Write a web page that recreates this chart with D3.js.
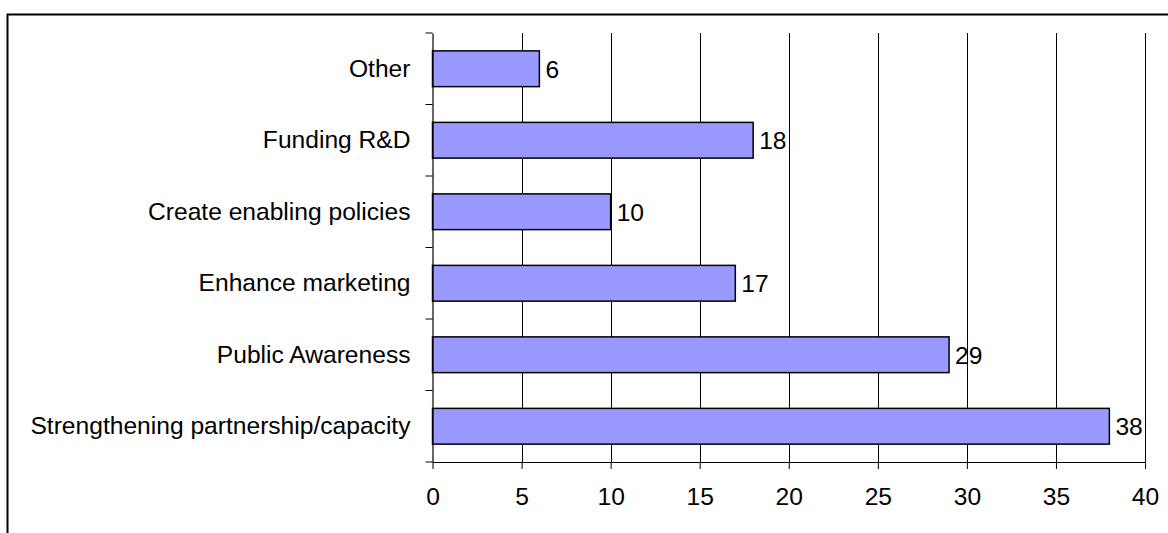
<!DOCTYPE html>
<html><head><meta charset="utf-8">
<script src="https://cdn.jsdelivr.net/npm/d3@7"></script>
<style>body{margin:0;background:#fff}svg{display:block}text{font-family:"Liberation Sans",Arial,sans-serif;fill:#000}</style>
</head><body><svg id="c" width="1168" height="533"></svg>
<script>
const categories = ["Strengthening partnership/capacity","Public Awareness","Enhance marketing","Create enabling policies","Funding R&D","Other"];
const values = [38, 29, 17, 10, 18, 6];
const xTicks = [0,5,10,15,20,25,30,35,40];

const FS = 24.6;
const svg = d3.select("#c");
const L = 432.5, R = 1145, T = 33, B = 462;
// outer chart frame
svg.append("rect").attr("x",7.5).attr("y",14.5).attr("width",1200).attr("height",600)
  .attr("fill","none").attr("stroke","#000").attr("stroke-width",2);

const x = d3.scaleLinear().domain([0,40]).range([L,R]);
const y = d3.scaleBand().domain(categories.slice().reverse()).range([T,B]).paddingInner(0.5).paddingOuter(0.25);
const yb = d3.scaleBand().domain(categories.slice().reverse()).range([T,B]);

// gridlines
svg.append("g").selectAll("line").data(xTicks.slice(1)).join("line")
  .attr("x1",d=>Math.round(x(d))+0.5).attr("x2",d=>Math.round(x(d))+0.5).attr("y1",T).attr("y2",B)
  .attr("stroke","#000").attr("stroke-width",1);

// bars
svg.append("g").selectAll("rect").data(categories).join("rect")
  .attr("x",x(0)).attr("y",d=>y(d)).attr("width",(d,i)=>x(values[i])-x(0)).attr("height",y.bandwidth())
  .attr("fill","#9999FF").attr("stroke","#000").attr("stroke-width",1.5);

// value labels
svg.append("g").selectAll("text").data(categories).join("text")
  .attr("x",(d,i)=>x(values[i])+6).attr("y",d=>y(d)+y.bandwidth()/2).attr("dy","0.36em")
  .attr("font-size",FS).text((d,i)=>values[i]);

// x axis
const xa = svg.append("g").attr("transform",`translate(0,${B})`)
  .call(d3.axisBottom(x).tickValues(xTicks).tickSize(7).tickPadding(19).tickSizeOuter(0));
xa.select(".domain").attr("stroke","#000").attr("stroke-width",1.2);
xa.selectAll(".tick line").attr("stroke","#000");
xa.selectAll("text").attr("font-size",FS).attr("font-family","Liberation Sans, Arial, sans-serif");

// y axis
const ya = svg.append("g").attr("transform",`translate(${L},0)`)
  .call(d3.axisLeft(yb).tickSize(0).tickPadding(22).tickSizeOuter(0));
ya.select(".domain").attr("stroke","#000").attr("stroke-width",1.2);
ya.selectAll("text").attr("font-size",FS).attr("font-family","Liberation Sans, Arial, sans-serif");
// category boundary tick marks
const bounds = categories.map((d,i)=>T + i*yb.step()).concat([B]);
svg.append("g").selectAll("line").data(bounds).join("line")
  .attr("x1",L-7).attr("x2",L).attr("y1",d=>d).attr("y2",d=>d).attr("stroke","#000").attr("stroke-width",1);
</script></body></html>
